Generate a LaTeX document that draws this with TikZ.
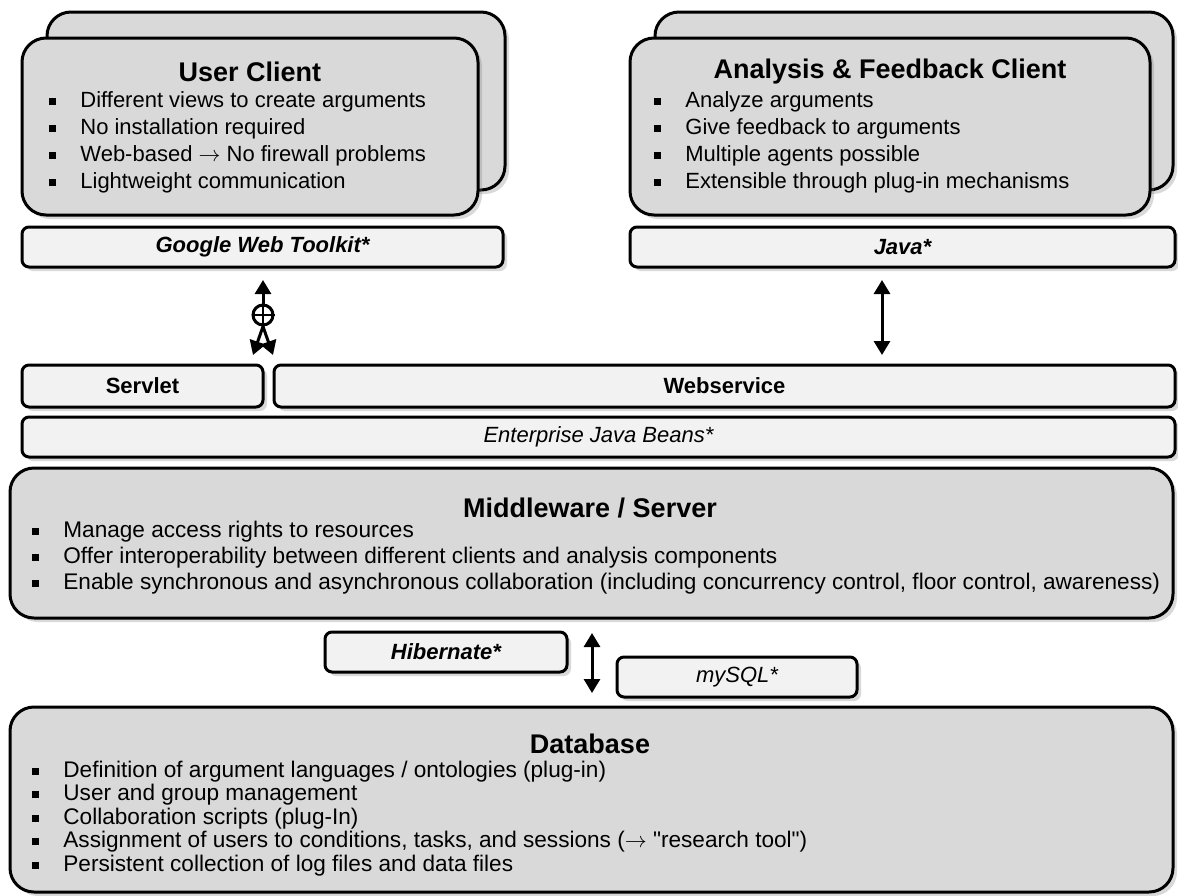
\documentclass[tikz,border=0pt]{standalone}
\usepackage{fontspec}
\setmainfont{Liberation Sans}[Ligatures=TeXOff]
\usetikzlibrary{fit,shadows,arrows.meta}
\definecolor{boxgray}{HTML}{D9D9D9}
\definecolor{bargray}{HTML}{F2F2F2}
\newcommand{\sqbul}{\makebox[15.5pt][l]{\rule[0.1em]{0.3em}{0.3em}}}

\begin{document}
\begin{tikzpicture}[x=0.5pt,y=-0.5pt,
  boxshadow/.style={drop shadow={shadow xshift=2pt,shadow yshift=-2pt,opacity=0.3}},
  bigbox/.style={draw=black,line width=1.5pt,fill=boxgray,rounded corners=12pt,boxshadow},
  barbox/.style={draw=black,line width=1.5pt,fill=bargray,rounded corners=3.5pt,boxshadow,minimum height=20pt},
  bartxt/.style={font=\fontsize{11}{13}\selectfont\itshape},
  barbold/.style={font=\fontsize{11}{13}\selectfont\bfseries\itshape},
  barplain/.style={font=\fontsize{11}{13}\selectfont\bfseries},
  ttl/.style={font=\fontsize{13.5}{16}\selectfont\bfseries},
  itm/.style={anchor=base west,font=\fontsize{11}{13}\selectfont},
  itmw/.style={anchor=base west,font=\fontsize{11.3}{13}\selectfont},
  tip/.style={line width=1.5pt,-{Triangle[width=8pt,length=7pt]}},
  dbl/.style={line width=1.5pt,{Triangle[width=8pt,length=7pt]}-{Triangle[width=8pt,length=7pt]}}]
	\tikzstyle{every node}+=[inner sep=0pt]
	\useasboundingbox (0,0) rectangle (1178,895);
	\node[bigbox,fit={(47,12) (505,190)}] (ucback) {};
	\node[bigbox,fit={(22,38) (478,215)}] (uc) {};
	\node[barbox,barbold,minimum width=240.5pt] (gwt) at (262.5,247) {Google Web Toolkit*};
	\node[bigbox,fit={(655,12) (1173,190)}] (afback) {};
	\node[bigbox,fit={(630,38) (1150,215)}] (af) {};
	\node[barbox,barbold,minimum width=272.5pt] (java) at (902.5,247) {Java*};
	\node[ttl] (uctitle) at (250,72) {User Client};
	\foreach \t [count=\i] in {Different views to create arguments,No installation required,Web-based $\rightarrow$ No firewall problems,Lightweight communication}
		\node[itm] (uc\i) at (49,80+27*\i) {\sqbul\t};
	\node[ttl] (aftitle) at (890,72) {Analysis \& Feedback Client};
	\foreach \t [count=\i] in {Analyze arguments,Give feedback to arguments,Multiple agents possible,Extensible through plug-in mechanisms}
		\node[itm] (af\i) at (654,80+27*\i) {\sqbul\t};
	\node[barbox,barplain,minimum width=120.5pt,minimum height=21pt] (servlet) at (142.5,386) {Servlet};
	\node[barbox,barplain,minimum width=450.5pt,minimum height=21pt] (websvc) at (724.5,386) {Webservice};
	\node[barbox,bartxt,minimum width=576.5pt] (ejb) at (598.5,437) {Enterprise Java Beans*};
	\node[bigbox,fit={(10,468) (1173,618)}] (mid) {};
	\node[ttl] (midtitle) at (590,508) {Middleware / Server};
	\foreach \t [count=\i] in {Manage access rights to resources,Offer interoperability between different clients and analysis components,{Enable synchronous and asynchronous collaboration (including concurrency control, floor control, awareness)}}
		\node[itmw] (mid\i) at (32,511+26*\i) {\sqbul\t};
	\node[barbox,barbold,minimum width=121pt] (hib) at (446,652) {Hibernate*};
	\node[barbox,bartxt,minimum width=120pt] (mysql) at (737,677) {mySQL*};
	\node[bigbox,fit={(10,707) (1173,892)}] (db) {};
	\node[ttl] (dbtitle) at (590,744) {Database};
	\foreach \t [count=\i] in {Definition of argument languages / ontologies (plug-in),User and group management,Collaboration scripts (plug-In),{Assignment of users to conditions, tasks, and sessions ($\rightarrow$ "research tool")},Persistent collection of log files and data files}
		\node[itmw] (db\i) at (32,753.5+23.5*\i) {\sqbul\t};
	\node[draw,circle,line width=1.5pt,minimum size=10pt,fill=white] (mux) at (263,315) {};
	\draw[line width=1pt] (mux.north) -- (mux.south) (mux.west) -- (mux.east);
	\coordinate (gtop) at (263,280);
	\coordinate (fl) at (253,355);
	\coordinate (fr) at (273,355);
	\draw[tip] (mux.north) -- (gtop);
	\draw[tip] (mux.south) -- (fl);
	\draw[tip] (mux.south) -- (fr);
	\coordinate (jtop) at (882,280);
	\coordinate (jbot) at (882,355);
	\draw[dbl] (jtop) -- (jbot);
	\coordinate (htop) at (592,633);
	\coordinate (hbot) at (592,693);
	\draw[dbl] (htop) -- (hbot);
\end{tikzpicture}
\end{document}
